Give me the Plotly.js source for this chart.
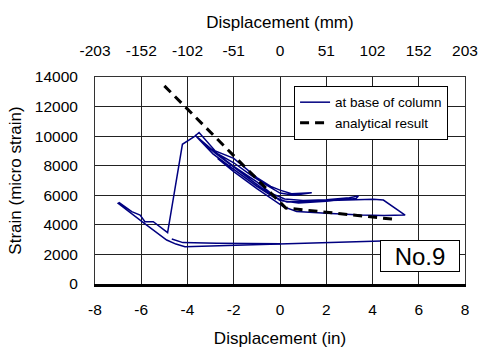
<!DOCTYPE html>
<html>
<head>
<meta charset="utf-8">
<script src="https://cdn.plot.ly/plotly-3.0.1.min.js"></script>
<style>html,body{margin:0;padding:0;background:#fff;}#chart{width:482px;height:348px;}</style>
</head>
<body>
<div id="chart"></div>
<script>
// Measured column-base strain (displacement in inches, strain in micro strain); null = pen lift
const measuredX = [
  4.76, 3.5, 2.0, 0.5, -1.0, -2.0, -2.74, -3.5, -4.11, -4.5, -4.9, -5.98, -7.0,
  -6.95, -6.41, -6.05, -5.84, -5.48, -4.86, -4.22, -3.71, -3.5,
  -2.8, -2.0, -1.0, -0.4, 0.0, 0.5, 1.37,
  0.6, 0.0, -0.6, -1.2, -2.0, -2.8, -3.68,
  -2.9, -2.0, -1.0, -0.4, 0.2, 1.0, 2.0, 3.0, 3.39,
  3.3, 2.0, 0.8, 0.0, -0.8, -1.8, -2.8, -3.6,
  -2.9, -2.0, -1.0, -0.3, 0.3, 1.0, 2.0, 3.0, 4.04, 4.47, 5.41,
  4.5, 3.5, 2.0, 0.72, 0.14, -0.5, -1.0, -2.0, -2.7,
  null,
  -4.68, -4.2, -2.74, -1.5, 0.0
];
const measuredY = [
  2920, 2870, 2800, 2730, 2680, 2620, 2590, 2560, 2525, 2700, 2975, 4230, 5450,
  5500, 4890, 4665, 4215, 4215, 3470, 9450, 9960, 10250,
  9000, 8500, 7200, 6600, 6350, 6100, 6170,
  6000, 6150, 6700, 7300, 8200, 8900, 10070,
  9000, 7950, 6900, 6150, 5750, 5650, 5700, 5830, 5950,
  5790, 5600, 5480, 5650, 6500, 7700, 8850, 9950,
  8800, 7750, 6600, 5900, 5550, 5600, 5650, 5700, 5730, 5680, 4665,
  4640, 4660, 4780, 4900, 5230, 5900, 6450, 7600, 8500,
  null,
  3040, 2800, 2760, 2720, 2720
];
// Analytical result
const analyticalX = [-5.0, 0.25, 4.9];
const analyticalY = [13400, 5140, 4380];
// Axis ticks
const inchTicks = [-8, -6, -4, -2, 0, 2, 4, 6, 8];
const mmTickText = ['-203', '-152', '-102', '-51', '0', '51', '102', '152', '203'];
const strainTicks = [0, 2000, 4000, 6000, 8000, 10000, 12000, 14000];

const FONT = 'Arial, "Liberation Sans", sans-serif';

const traces = [
  {
    x: measuredX, y: measuredY, type: 'scatter', mode: 'lines',
    name: 'at base of column', connectgaps: false,
    line: {color: '#000080', width: 1.5}
  },
  {
    // drawn on the top axis, which shares the same inch range as the bottom one
    x: analyticalX, y: analyticalY, type: 'scatter', mode: 'lines',
    xaxis: 'x2', yaxis: 'y',
    name: 'analytical result',
    line: {color: '#000000', width: 3, dash: '9px,6px'}
  }
];

const layout = {
  width: 482, height: 348,
  margin: {l: 95, r: 17, t: 77, b: 64, pad: 0},
  paper_bgcolor: '#ffffff', plot_bgcolor: '#ffffff',
  font: {family: FONT, size: 15, color: '#000'},
  showlegend: true,
  xaxis: {
    range: [-8, 8], tickvals: inchTicks, ticktext: inchTicks.map(String),
    showgrid: true, gridcolor: '#222', gridwidth: 1,
    zeroline: false, showline: true, linecolor: '#000', linewidth: 2.5,
    ticks: '', ticklabelstandoff: 10,
    tickfont: {family: FONT, size: 15.5, color: '#000'},
    title: {text: 'Displacement (in)', font: {family: FONT, size: 17, color: '#000'}, standoff: 16}
  },
  xaxis2: {
    overlaying: 'x', side: 'top', anchor: 'y',
    range: [-8, 8], tickvals: inchTicks, ticktext: mmTickText,
    showgrid: false, zeroline: false, showline: true, linecolor: '#333', linewidth: 1,
    ticks: '', ticklabelstandoff: 14,
    tickfont: {family: FONT, size: 15.5, color: '#000'},
    title: {text: 'Displacement (mm)', font: {family: FONT, size: 17, color: '#000'}, standoff: 8}
  },
  yaxis: {
    range: [0, 14000], tickvals: strainTicks, ticktext: strainTicks.map(String),
    showgrid: true, gridcolor: '#222', gridwidth: 1,
    zeroline: false, showline: true, mirror: true, linecolor: '#333', linewidth: 1,
    ticks: '', ticklabelstandoff: 13,
    tickfont: {family: FONT, size: 15.5, color: '#000'},
    title: {text: 'Strain (micro strain)', font: {family: FONT, size: 17, color: '#000'}, standoff: 8}
  },
  legend: {
    x: 0.538, y: 0.957, xanchor: 'left', yanchor: 'top',
    bgcolor: '#ffffff', bordercolor: '#000', borderwidth: 1,
    font: {family: FONT, size: 13.5, color: '#000'},
    itemwidth: 30, tracegroupgap: 0
  },
  annotations: [{
    xref: 'x', yref: 'y', x: 6.07, y: 1870,
    text: 'No.9', showarrow: false,
    font: {family: FONT, size: 24, color: '#000'},
    bgcolor: '#ffffff', bordercolor: '#000', borderwidth: 1,
    width: 76, height: 28, borderpad: 1
  }]
};

Plotly.newPlot('chart', traces, layout, {displayModeBar: false, staticPlot: true});
</script>
</body>
</html>
